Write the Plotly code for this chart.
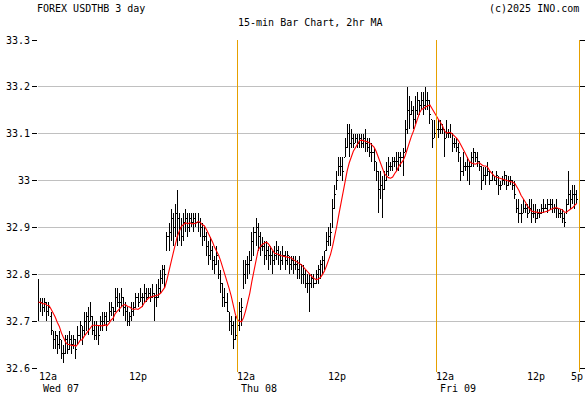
import plotly.graph_objects as go
import pandas as pd

# 15-minute bars, index 0 = 12a Wed 07 ... 260 = 5p Fri 09
opens = [
    32.78, 32.74, 32.74, 32.73, 32.74, 32.72, 32.71, 32.68, 32.66, 32.67,
    32.65, 32.66, 32.63, 32.63, 32.66, 32.64, 32.66, 32.65, 32.66, 32.65,
    32.67, 32.69, 32.68, 32.70, 32.71, 32.70, 32.71, 32.68, 32.67, 32.69,
    32.68, 32.70, 32.70, 32.71, 32.70, 32.72, 32.73, 32.72, 32.75, 32.74,
    32.74, 32.75, 32.73, 32.72, 32.70, 32.71, 32.72, 32.73, 32.75, 32.74,
    32.75, 32.75, 32.76, 32.75, 32.76, 32.75, 32.76, 32.75, 32.75, 32.77,
    32.79, 32.81, 32.85, 32.88, 32.89, 32.92, 32.90, 32.93, 32.92, 32.90,
    32.88, 32.91, 32.92, 32.90, 32.92, 32.91, 32.92, 32.91, 32.91, 32.90,
    32.88, 32.88, 32.86, 32.84, 32.85, 32.83, 32.82, 32.83, 32.80, 32.78,
    32.75, 32.74, 32.72, 32.70, 32.69, 32.66, 32.67, 32.69, 32.72, 32.77,
    32.80, 32.82, 32.82, 32.83, 32.87, 32.89, 32.90, 32.88, 32.86, 32.86,
    32.84, 32.85, 32.84, 32.84, 32.83, 32.84, 32.85, 32.84, 32.83, 32.84,
    32.83, 32.84, 32.82, 32.83, 32.82, 32.82, 32.81, 32.82, 32.80, 32.80,
    32.78, 32.78, 32.78, 32.79, 32.78, 32.80, 32.81, 32.82, 32.83, 32.85,
    32.87, 32.88, 32.90, 32.94, 32.98, 33.01, 33.03, 33.03, 33.05, 33.07,
    33.10, 33.08, 33.09, 33.08, 33.09, 33.08, 33.09, 33.08, 33.09, 33.08,
    33.07, 33.06, 33.06, 33.04, 33.02, 32.98, 32.99, 32.98, 33.00, 33.02,
    33.03, 33.03, 33.04, 33.04, 33.04, 33.05, 33.05, 33.06, 33.11, 33.15,
    33.14, 33.15, 33.13, 33.15, 33.17, 33.16, 33.17, 33.16, 33.17, 33.17,
    33.13, 33.09, 33.10, 33.11, 33.11, 33.11, 33.11, 33.09, 33.10, 33.10,
    33.10, 33.08, 33.08, 33.07, 33.05, 33.02, 33.03, 33.03, 33.03, 33.03,
    33.05, 33.06, 33.05, 33.04, 33.03, 33.00, 33.01, 33.01, 33.02, 33.00,
    33.01, 33.00, 33.01, 32.99, 32.99, 33.00, 33.01, 32.99, 33.00, 33.00,
    32.99, 32.96, 32.94, 32.93, 32.93, 32.94, 32.94, 32.93, 32.94, 32.93,
    32.93, 32.92, 32.93, 32.93, 32.94, 32.94, 32.94, 32.95, 32.95, 32.94,
    32.94, 32.94, 32.93, 32.93, 32.92, 32.93, 32.95, 32.97, 32.96, 32.97,
    32.97,
]
highs = [
    32.79, 32.75, 32.75, 32.75, 32.74, 32.74, 32.72, 32.68, 32.68, 32.67,
    32.68, 32.66, 32.65, 32.67, 32.67, 32.68, 32.67, 32.67, 32.66, 32.69,
    32.70, 32.69, 32.72, 32.72, 32.73, 32.74, 32.71, 32.70, 32.70, 32.69,
    32.71, 32.72, 32.72, 32.72, 32.74, 32.74, 32.73, 32.77, 32.77, 32.76,
    32.77, 32.75, 32.74, 32.73, 32.72, 32.74, 32.74, 32.76, 32.76, 32.77,
    32.76, 32.78, 32.77, 32.77, 32.77, 32.78, 32.76, 32.78, 32.79, 32.81,
    32.82, 32.82, 32.89, 32.91, 32.94, 32.93, 32.95, 32.98, 32.93, 32.92,
    32.93, 32.94, 32.93, 32.93, 32.93, 32.93, 32.93, 32.93, 32.92, 32.91,
    32.90, 32.89, 32.87, 32.88, 32.86, 32.84, 32.86, 32.83, 32.81, 32.78,
    32.77, 32.76, 32.72, 32.71, 32.70, 32.71, 32.70, 32.74, 32.75, 32.83,
    32.83, 32.84, 32.85, 32.89, 32.90, 32.92, 32.91, 32.89, 32.88, 32.87,
    32.87, 32.86, 32.86, 32.85, 32.86, 32.87, 32.86, 32.85, 32.86, 32.85,
    32.85, 32.84, 32.84, 32.84, 32.84, 32.83, 32.84, 32.82, 32.82, 32.81,
    32.80, 32.80, 32.80, 32.80, 32.81, 32.82, 32.83, 32.84, 32.85, 32.89,
    32.90, 32.91, 32.96, 32.99, 33.02, 33.05, 33.05, 33.05, 33.09, 33.12,
    33.12, 33.11, 33.10, 33.10, 33.10, 33.10, 33.10, 33.10, 33.11, 33.09,
    33.09, 33.08, 33.07, 33.04, 33.02, 33.02, 33.01, 33.02, 33.04, 33.05,
    33.04, 33.05, 33.05, 33.06, 33.06, 33.06, 33.07, 33.13, 33.20, 33.18,
    33.17, 33.16, 33.18, 33.19, 33.17, 33.19, 33.19, 33.20, 33.19, 33.17,
    33.13, 33.13, 33.14, 33.13, 33.13, 33.12, 33.11, 33.13, 33.11, 33.12,
    33.10, 33.09, 33.09, 33.08, 33.05, 33.06, 33.04, 33.05, 33.04, 33.06,
    33.07, 33.06, 33.06, 33.04, 33.03, 33.03, 33.03, 33.04, 33.02, 33.02,
    33.01, 33.02, 33.01, 33.00, 33.01, 33.02, 33.01, 33.01, 33.01, 33.00,
    33.00, 32.96, 32.96, 32.95, 32.96, 32.95, 32.95, 32.96, 32.96, 32.95,
    32.95, 32.94, 32.94, 32.95, 32.96, 32.95, 32.96, 32.96, 32.96, 32.95,
    32.96, 32.94, 32.94, 32.94, 32.93, 32.96, 33.02, 32.98, 32.99, 32.99,
    32.98,
]
lows = [
    32.70, 32.72, 32.71, 32.72, 32.70, 32.71, 32.67, 32.64, 32.64, 32.63,
    32.64, 32.62, 32.61, 32.63, 32.63, 32.64, 32.63, 32.64, 32.62, 32.65,
    32.66, 32.65, 32.67, 32.68, 32.67, 32.70, 32.67, 32.66, 32.66, 32.65,
    32.68, 32.68, 32.69, 32.68, 32.70, 32.71, 32.70, 32.72, 32.73, 32.72,
    32.73, 32.71, 32.70, 32.69, 32.69, 32.70, 32.71, 32.73, 32.73, 32.74,
    32.73, 32.74, 32.74, 32.75, 32.74, 32.75, 32.70, 32.73, 32.75, 32.76,
    32.78, 32.77, 32.85, 32.85, 32.87, 32.86, 32.88, 32.86, 32.87, 32.86,
    32.87, 32.89, 32.88, 32.89, 32.90, 32.89, 32.90, 32.89, 32.88, 32.86,
    32.87, 32.84, 32.82, 32.83, 32.81, 32.80, 32.82, 32.79, 32.76, 32.73,
    32.73, 32.72, 32.68, 32.67, 32.64, 32.66, 32.66, 32.68, 32.69, 32.77,
    32.78, 32.79, 32.80, 32.83, 32.84, 32.86, 32.85, 32.84, 32.85, 32.82,
    32.83, 32.81, 32.82, 32.80, 32.82, 32.83, 32.82, 32.81, 32.82, 32.81,
    32.82, 32.80, 32.81, 32.80, 32.81, 32.79, 32.79, 32.78, 32.78, 32.77,
    32.76, 32.72, 32.77, 32.77, 32.78, 32.78, 32.79, 32.80, 32.81, 32.85,
    32.86, 32.86, 32.90, 32.94, 32.98, 33.01, 33.01, 33.00, 33.05, 33.07,
    33.05, 33.07, 33.07, 33.08, 33.07, 33.07, 33.07, 33.07, 33.06, 33.06,
    33.05, 33.04, 33.02, 33.00, 32.93, 32.96, 32.92, 32.98, 33.00, 33.01,
    33.02, 33.02, 33.03, 33.02, 33.02, 33.03, 33.01, 33.06, 33.10, 33.11,
    33.14, 33.11, 33.12, 33.14, 33.14, 33.15, 33.14, 33.15, 33.15, 33.12,
    33.07, 33.09, 33.09, 33.09, 33.10, 33.10, 33.05, 33.09, 33.09, 33.09,
    33.06, 33.07, 33.06, 33.04, 33.00, 33.01, 33.02, 33.00, 32.99, 33.03,
    33.03, 33.04, 33.03, 33.02, 32.98, 33.00, 32.99, 33.01, 32.99, 33.00,
    33.00, 32.99, 32.97, 32.98, 32.99, 32.99, 32.98, 32.99, 32.99, 32.98,
    32.96, 32.93, 32.91, 32.91, 32.93, 32.93, 32.92, 32.93, 32.91, 32.92,
    32.91, 32.92, 32.92, 32.93, 32.93, 32.94, 32.93, 32.94, 32.93, 32.93,
    32.92, 32.92, 32.92, 32.91, 32.90, 32.93, 32.95, 32.94, 32.95, 32.94,
    32.95,
]
closes = [
    32.74, 32.74, 32.73, 32.74, 32.72, 32.73, 32.68, 32.66, 32.67, 32.65,
    32.66, 32.63, 32.63, 32.66, 32.64, 32.66, 32.65, 32.66, 32.64, 32.67,
    32.69, 32.67, 32.70, 32.71, 32.69, 32.72, 32.68, 32.67, 32.69, 32.67,
    32.70, 32.70, 32.71, 32.70, 32.72, 32.73, 32.72, 32.75, 32.74, 32.74,
    32.75, 32.73, 32.72, 32.70, 32.71, 32.72, 32.73, 32.75, 32.74, 32.75,
    32.75, 32.76, 32.75, 32.76, 32.75, 32.76, 32.75, 32.75, 32.77, 32.79,
    32.81, 32.80, 32.88, 32.89, 32.92, 32.90, 32.93, 32.92, 32.90, 32.88,
    32.91, 32.92, 32.90, 32.92, 32.91, 32.92, 32.91, 32.91, 32.90, 32.88,
    32.88, 32.86, 32.84, 32.85, 32.83, 32.82, 32.84, 32.80, 32.78, 32.75,
    32.74, 32.73, 32.70, 32.69, 32.66, 32.67, 32.69, 32.72, 32.73, 32.80,
    32.82, 32.82, 32.83, 32.87, 32.89, 32.90, 32.88, 32.86, 32.86, 32.84,
    32.85, 32.84, 32.84, 32.83, 32.84, 32.85, 32.84, 32.83, 32.84, 32.83,
    32.84, 32.82, 32.83, 32.82, 32.82, 32.81, 32.82, 32.80, 32.80, 32.78,
    32.78, 32.78, 32.79, 32.78, 32.80, 32.81, 32.82, 32.83, 32.84, 32.87,
    32.88, 32.89, 32.94, 32.97, 33.00, 33.03, 33.03, 33.02, 33.07, 33.10,
    33.08, 33.09, 33.08, 33.09, 33.08, 33.09, 33.08, 33.09, 33.08, 33.07,
    33.06, 33.06, 33.04, 33.02, 32.98, 32.99, 32.97, 33.00, 33.02, 33.03,
    33.03, 33.04, 33.04, 33.04, 33.05, 33.05, 33.06, 33.11, 33.15, 33.14,
    33.15, 33.13, 33.15, 33.17, 33.16, 33.17, 33.16, 33.17, 33.17, 33.14,
    33.09, 33.10, 33.11, 33.11, 33.11, 33.11, 33.08, 33.10, 33.10, 33.10,
    33.08, 33.08, 33.07, 33.06, 33.02, 33.03, 33.03, 33.03, 33.01, 33.05,
    33.06, 33.05, 33.04, 33.03, 33.00, 33.01, 33.01, 33.02, 33.00, 33.01,
    33.00, 33.01, 32.99, 32.99, 33.00, 33.01, 32.99, 33.00, 33.00, 32.99,
    32.97, 32.94, 32.93, 32.93, 32.94, 32.94, 32.93, 32.94, 32.93, 32.93,
    32.92, 32.93, 32.93, 32.94, 32.94, 32.94, 32.95, 32.95, 32.94, 32.94,
    32.94, 32.93, 32.93, 32.92, 32.91, 32.95, 32.97, 32.96, 32.97, 32.97,
    32.96,
]

y_ticks = [32.6, 32.7, 32.8, 32.9, 33.0, 33.1, 33.2, 33.3]
y_ticktext = ["32.6", "32.7", "32.8", "32.9", "33", "33.1", "33.2", "33.3"]

midnight_pos = [0, 96, 192]
midnight_text = ["12a", "12a", "12a"]
noon_pos = [48, 144, 240, 260]
noon_text = ["12p", "12p", "12p", "5p"]
day_text = ["Wed 07", "Thu 08", "Fri 09"]
divider_pos = [96, 192]

bars = list(range(len(closes)))
ma = pd.Series(closes).rolling(8, min_periods=1).mean().tolist()

FONT = "DejaVu Sans Mono"
ORANGE = "#E6A000"

fig = go.Figure()
fig.add_trace(go.Ohlc(
    x=bars, open=opens, high=highs, low=lows, close=closes,
    increasing=dict(line=dict(color="black", width=1)),
    decreasing=dict(line=dict(color="black", width=1)),
    tickwidth=0.5, showlegend=False, hoverinfo="skip",
))
fig.add_trace(go.Scatter(
    x=bars, y=ma, mode="lines", line=dict(color="#FF0000", width=1.1),
    showlegend=False, hoverinfo="skip",
))

shapes = []
for p in divider_pos:
    shapes.append(dict(type="line", xref="x", yref="paper", x0=p, x1=p,
                       y0=-0.012, y1=1, line=dict(color=ORANGE, width=1)))
shapes.append(dict(type="line", xref="paper", yref="paper", x0=1, x1=1,
                   y0=-0.012, y1=1, line=dict(color=ORANGE, width=1)))

ann = []
ann.append(dict(text="FOREX USDTHB 3 day", xref="paper", yref="paper",
                x=-0.006, y=1.095, xanchor="left", yanchor="middle",
                showarrow=False, font=dict(family=FONT, size=10, color="black")))
ann.append(dict(text="(c)2025 INO.com", xref="paper", yref="paper",
                x=1.004, y=1.095, xanchor="right", yanchor="middle",
                showarrow=False, font=dict(family=FONT, size=10, color="black")))
ann.append(dict(text="15-min Bar Chart, 2hr MA", xref="paper", yref="paper",
                x=0.504, y=1.053, xanchor="center", yanchor="middle",
                showarrow=False, font=dict(family=FONT, size=10, color="black")))
for p, t in zip(midnight_pos, midnight_text):
    ann.append(dict(text=t, xref="x", yref="paper", x=p, y=-0.025, xshift=-2,
                    xanchor="left", yanchor="middle", showarrow=False,
                    font=dict(family=FONT, size=10, color="black")))
for p, t in zip(noon_pos, noon_text):
    ann.append(dict(text=t, xref="x", yref="paper", x=p, y=-0.025,
                    xanchor="center", yanchor="middle", showarrow=False,
                    font=dict(family=FONT, size=10, color="black")))
for p, t in zip(midnight_pos, day_text):
    ann.append(dict(text=t, xref="x", yref="paper", x=p, y=-0.064, xshift=2,
                    xanchor="left", yanchor="middle", showarrow=False,
                    font=dict(family=FONT, size=10, color="black")))

fig.update_layout(
    width=585, height=394,
    margin=dict(l=38, r=6, t=40, b=26, autoexpand=False),
    paper_bgcolor="white", plot_bgcolor="white",
    font=dict(family=FONT, size=10, color="black"),
    shapes=shapes, annotations=ann,
    xaxis=dict(range=[-0.3, 261], showgrid=False, zeroline=False,
               showticklabels=False, ticks="", showline=False,
               rangeslider=dict(visible=False), fixedrange=True,
               automargin=False),
    yaxis=dict(range=[32.6, 33.3], tickvals=y_ticks, ticktext=y_ticktext,
               showgrid=True, gridcolor="#C0C0C0", gridwidth=1,
               zeroline=False, showline=False, ticks="outside", ticklen=5,
               tickcolor="black", mirror="ticks", automargin=False,
               tickfont=dict(family=FONT, size=10, color="black"),
               fixedrange=True),
)

fig.write_html(
    "out.html",
    config={"displayModeBar": False, "staticPlot": True},
    post_script=(
        "document.body.style.margin='0';document.body.style.overflow='hidden';"
        "document.querySelectorAll('.ohlc path, .shapelayer path').forEach("
        "function(p){p.style.shapeRendering='crispEdges';});"
    ),
)
